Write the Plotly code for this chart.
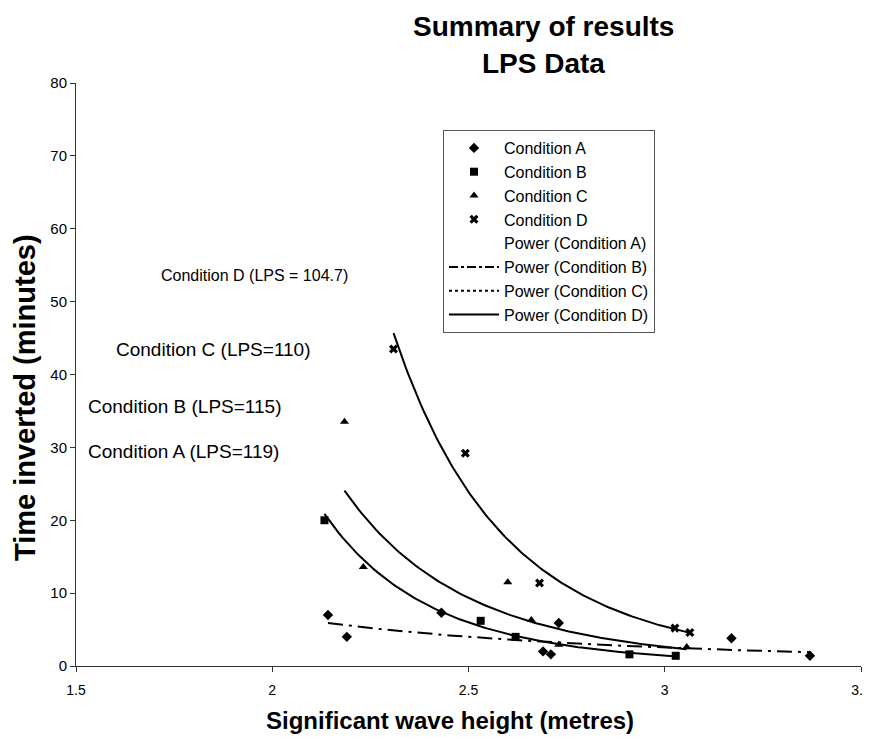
import numpy as np
import plotly.graph_objects as go

# ---- data ----
a_x = [2.142, 2.19, 2.431, 2.69, 2.71, 2.73, 3.17, 3.37]
a_y = [7.0, 4.0, 7.3, 2.0, 1.6, 5.9, 3.8, 1.4]
b_x = [2.133, 2.531, 2.62, 2.91, 3.028]
b_y = [20.0, 6.2, 4.0, 1.6, 1.4]
c_x = [2.184, 2.232, 2.600, 2.66, 2.73, 3.056]
c_y = [33.5, 13.6, 11.5, 6.3, 2.9, 2.6]
d_x = [2.309, 2.492, 2.681, 3.026, 3.064]
d_y = [43.5, 29.2, 11.4, 5.2, 4.6]

series_names = ["Condition A", "Condition B", "Condition C", "Condition D"]
x_ticks = [1.5, 2, 2.5, 3, 3.5]
x_tick_text = ["1.5", "2", "2.5", "3", "3.5"]
y_ticks = [0, 10, 20, 30, 40, 50, 60, 70, 80]

labels = [
    ("Condition D (LPS = 104.7)", 1.712, 53.6, 16),
    ("Condition C (LPS=110)", 1.597, 43.4, 19),
    ("Condition B (LPS=115)", 1.526, 35.6, 19),
    ("Condition A (LPS=119)", 1.526, 29.5, 19),
]

FONT = "Liberation Sans, Arial, sans-serif"

W, H = 863, 732
ML, MR, MT, MB = 68, 10, 75, 74


def power_fit(xs, ys, n=120):
    lx, ly = np.log(xs), np.log(ys)
    b, ln_a = np.polyfit(lx, ly, 1)
    xx = np.linspace(min(xs), max(xs), n)
    return xx, np.exp(ln_a) * xx ** b


def px_to_paper_x(px):
    return (px - 8 - ML) / (W - ML - MR)


def px_to_paper_y(py):
    return (H - MB - (py - 8)) / (H - MT - MB)


fig = go.Figure()

symbols = ["diamond", "square", "triangle-up", "x"]
data = [(a_x, a_y), (b_x, b_y), (c_x, c_y), (d_x, d_y)]
for name, (xs, ys), sym in zip(series_names, data, symbols):
    fig.add_trace(go.Scatter(
        x=xs, y=ys, mode="markers", name=name,
        marker=dict(symbol=sym, size=8, color="black", line=dict(width=0)),
        legendgroup=name,
    ))

# fitted power trendlines (drawn)
curve_styles = ["longdashdot", "solid", "solid", "solid"]
for name, (xs, ys), dash in zip(series_names, data, curve_styles):
    fx, fy = power_fit(xs, ys)
    fig.add_trace(go.Scatter(
        x=fx, y=fy, mode="lines", showlegend=False, hoverinfo="skip",
        line=dict(color="black", width=2, dash=dash),
    ))

# legend entries for trendlines
legend_styles = [("rgba(0,0,0,0)", "solid"), ("black", "dashdot"),
                 ("black", "dot"), ("black", "solid")]
for name, (col, dash) in zip(series_names, legend_styles):
    fig.add_trace(go.Scatter(
        x=[None], y=[None], mode="lines", name=f"Power ({name})",
        line=dict(color=col, width=2, dash=dash), legendgroup="p" + name,
    ))

for text, x, y, size in labels:
    fig.add_annotation(x=x, y=y, text=text, showarrow=False, xanchor="left",
                       yanchor="middle", font=dict(size=size, color="black", family=FONT))

fig.add_annotation(xref="paper", yref="paper", x=0.595, y=1.0, yshift=57,
                   text="<b>Summary of results</b>", showarrow=False,
                   font=dict(size=28, color="black", family=FONT), xanchor="center", yanchor="middle")
fig.add_annotation(xref="paper", yref="paper", x=0.595, y=1.0, yshift=20,
                   text="<b>LPS Data</b>", showarrow=False,
                   font=dict(size=28, color="black", family=FONT), xanchor="center", yanchor="middle")

# axis titles
fig.add_annotation(xref="paper", yref="paper", x=px_to_paper_x(450), y=px_to_paper_y(720),
                   text="<b>Significant wave height (metres)</b>", showarrow=False,
                   font=dict(size=24, color="black", family=FONT), xanchor="center", yanchor="middle")
fig.add_annotation(xref="paper", yref="paper", x=px_to_paper_x(25), y=px_to_paper_y(398),
                   text="<b>Time inverted (minutes)</b>", showarrow=False, textangle=-90,
                   font=dict(size=29, color="black", family=FONT), xanchor="center", yanchor="middle")

fig.update_layout(
    width=W, height=H,
    margin=dict(l=ML, r=MR, t=MT, b=MB),
    paper_bgcolor="white", plot_bgcolor="white",
    font=dict(family=FONT, color="black", size=15),
    showlegend=True,
    legend=dict(x=px_to_paper_x(443), y=px_to_paper_y(130), xanchor="left", yanchor="top",
                bordercolor="#555", borderwidth=1, bgcolor="white",
                font=dict(size=16, family=FONT, color="black"),
                itemwidth=50, tracegroupgap=0),
    xaxis=dict(range=[1.5, 3.5], tickvals=x_ticks, ticktext=x_tick_text,
               showgrid=False, zeroline=False, showline=True, linecolor="#333",
               linewidth=1, ticks="outside", ticklen=5, tickcolor="#333",
               tickfont=dict(size=14, family=FONT), automargin=False,
               ticklabelstandoff=6),
    yaxis=dict(range=[0, 80], tickvals=y_ticks,
               showgrid=False, zeroline=False, showline=True, linecolor="#333",
               linewidth=1, ticks="outside", ticklen=5, tickcolor="#333",
               tickfont=dict(size=15, family=FONT), automargin=False),
)

fig.write_html("out.html")
